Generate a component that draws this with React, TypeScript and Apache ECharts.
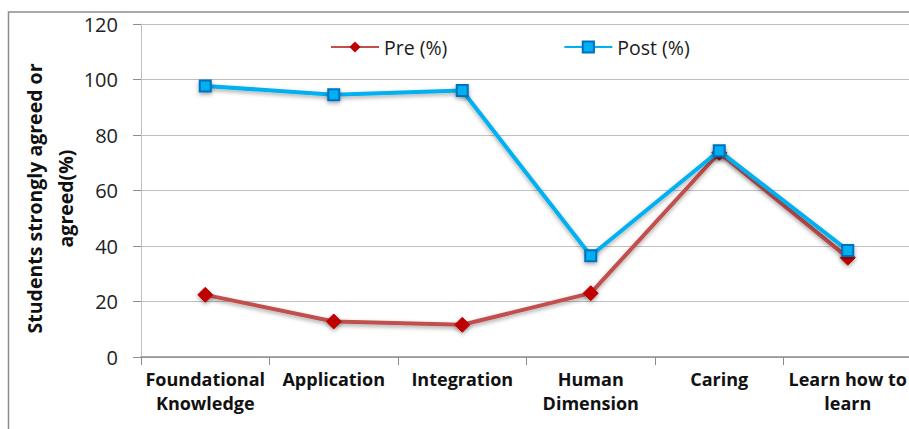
import React, { useEffect, useRef } from "react";
import * as echarts from "echarts";

const categories = [
  "Foundational\nKnowledge",
  "Application",
  "Integration",
  "Human\nDimension",
  "Caring",
  "Learn how to\nlearn",
];
const preValues = [22.4, 12.8, 11.6, 23.0, 73.6, 35.8];
const postValues = [97.7, 94.5, 96.0, 36.5, 74.3, 38.4];
const yTicks = [0, 20, 40, 60, 80, 100, 120];
const seriesNames = ["Pre (%)", "Post (%)"];
const yAxisTitle = "Students strongly agreed or\nagreed(%)";

const FONT = "'Open Sans', 'Liberation Sans', sans-serif";

export default function App() {
  const ref = useRef<HTMLDivElement>(null);
  useEffect(() => {
    if (!ref.current) return;
    const chart = echarts.init(ref.current, null, { renderer: "svg" });
    const shadow = {
      shadowBlur: 4,
      shadowColor: "rgba(0,0,0,0.35)",
      shadowOffsetY: 2,
    };
    chart.setOption({
      animation: false,
      backgroundColor: "#ffffff",
      textStyle: { fontFamily: FONT },
      graphic: [
        {
          type: "rect",
          shape: { x: 8.5, y: 12, width: 960, height: 460 },
          style: { fill: "none", stroke: "#8c8c8c", lineWidth: 1.5 },
          silent: true,
          z: 0,
        },
      ],
      legend: {
        left: 325,
        top: 32,
        itemWidth: 48,
        itemHeight: 14,
        itemGap: 116,
        textStyle: { fontSize: 19.5, color: "#1a1a1a", fontFamily: FONT },
        data: seriesNames,
      },
      grid: {
        left: 141,
        top: 24,
        right: -3,
        bottom: 72,
        containLabel: false,
        outerBoundsMode: "none",
      },
      xAxis: {
        type: "category",
        data: categories,
        boundaryGap: true,
        axisLine: { lineStyle: { color: "#8c8c8c", width: 1.5 } },
        axisTick: { show: true, length: 8, lineStyle: { color: "#8c8c8c" } },
        axisLabel: {
          interval: 0,
          margin: 10,
          fontSize: 18,
          fontWeight: "bold",
          lineHeight: 24,
          color: "#111",
          fontFamily: FONT,
        },
      },
      yAxis: {
        type: "value",
        min: yTicks[0],
        max: yTicks[yTicks.length - 1],
        interval: 20,
        name: yAxisTitle,
        nameLocation: "middle",
        nameGap: 60,
        nameMoveOverlap: false,
        nameRotate: 90,
        nameTextStyle: {
          fontSize: 19.5,
          fontWeight: "bold",
          color: "#111",
          lineHeight: 31,
          fontFamily: FONT,
          padding: [0, 16, 0, 0],
        },
        axisLine: { show: true, lineStyle: { color: "#bfbfbf", width: 1 } },
        axisTick: { show: true, length: 8, lineStyle: { color: "#8c8c8c" } },
        axisLabel: { fontSize: 20, color: "#222", margin: 23, fontFamily: FONT },
        splitLine: { lineStyle: { color: "#c0c0c0", width: 1 } },
      },
      series: [
        {
          name: seriesNames[0],
          type: "line",
          data: preValues,
          symbol: "diamond",
          symbolSize: 15,
          lineStyle: { color: "#C0504D", width: 4, ...shadow },
          itemStyle: { color: "#C00000", borderColor: "#C00000", ...shadow },
          z: 2,
        },
        {
          name: seriesNames[1],
          type: "line",
          data: postValues,
          symbol: "rect",
          symbolSize: 11,
          lineStyle: { color: "#00B0F0", width: 4, ...shadow },
          itemStyle: {
            color: "#00B0F0",
            borderColor: "#0070C0",
            borderWidth: 2,
            ...shadow,
          },
          z: 3,
        },
      ],
    });
    return () => chart.dispose();
  }, []);
  return (
    <div
      ref={ref}
      style={{ position: "absolute", left: 0, top: 0, width: 909, height: 429 }}
    />
  );
}
